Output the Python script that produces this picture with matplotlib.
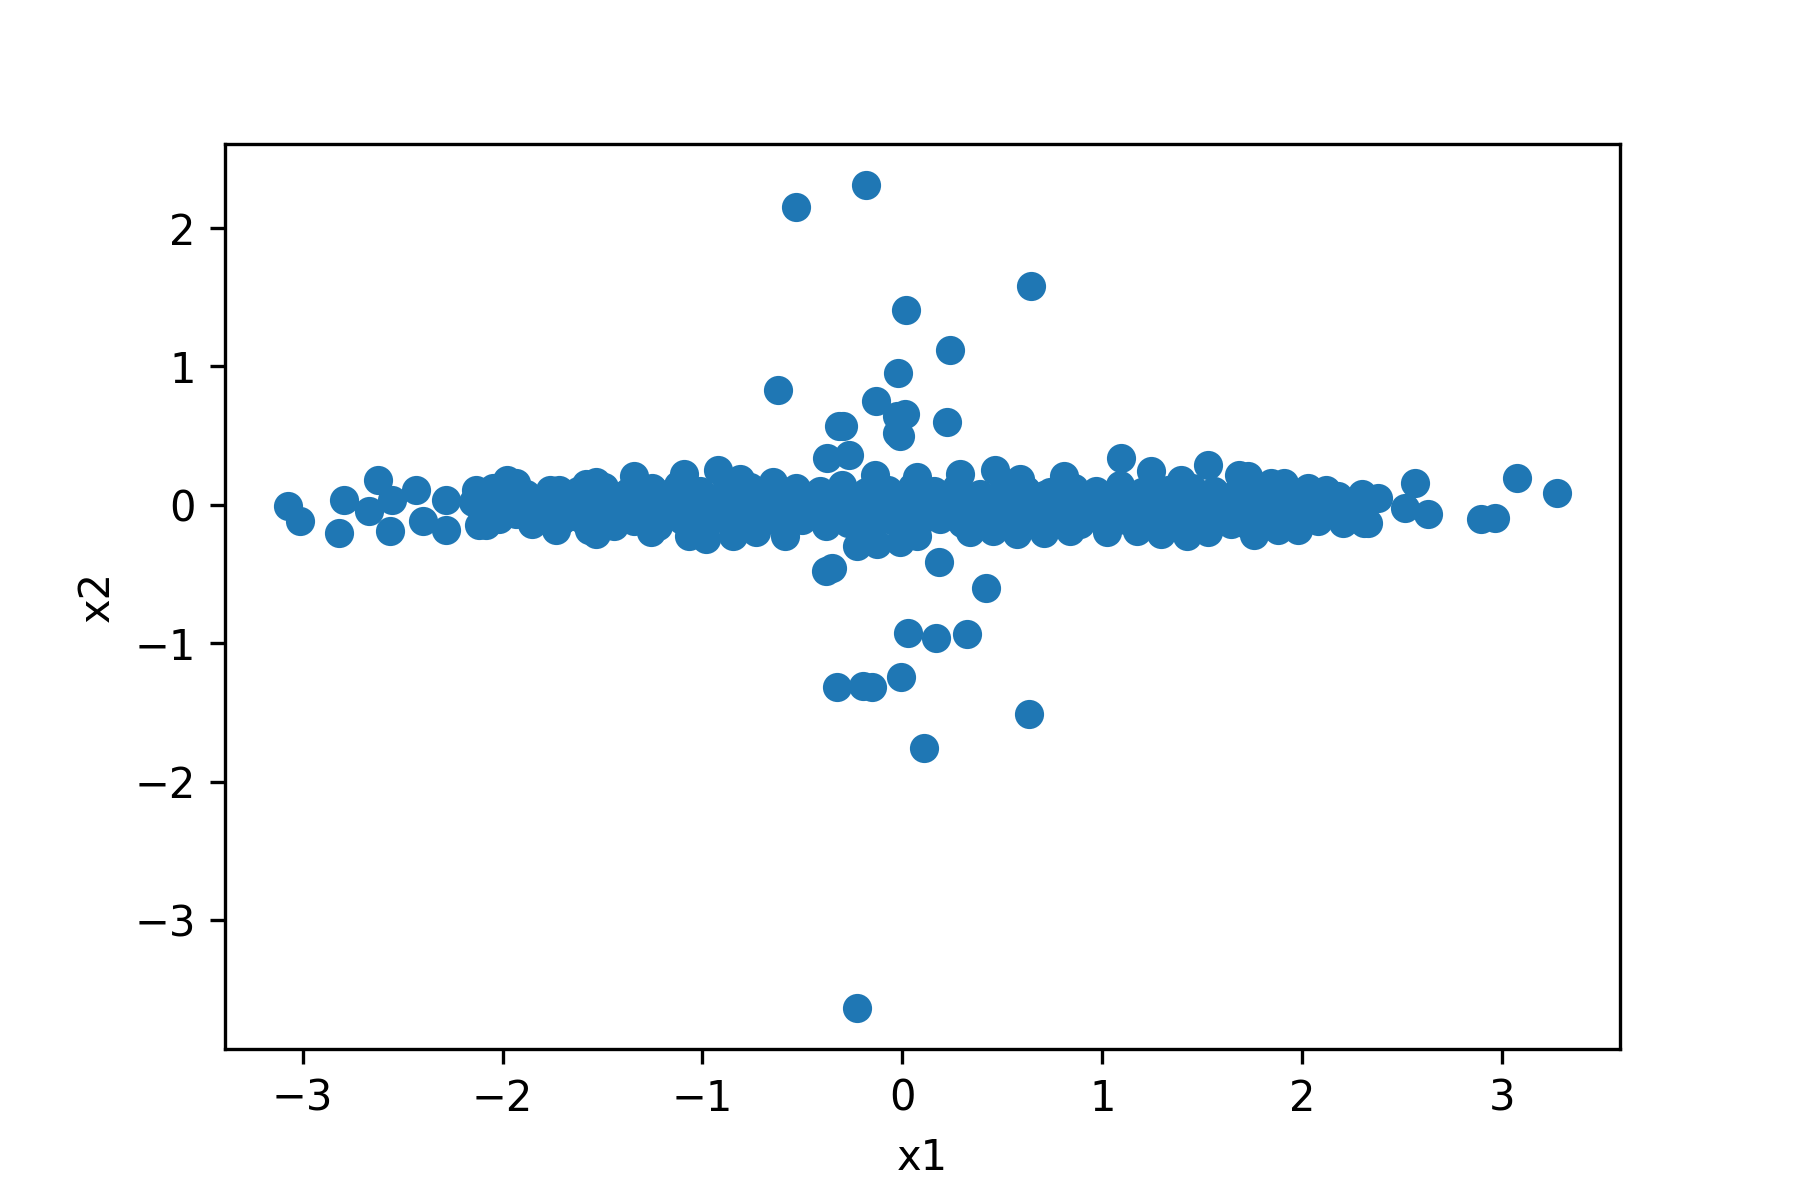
import numpy as np
import matplotlib.pyplot as plt

# points well away from the main band
outlier_x = [-0.53, -0.18, 0.645, 0.02, 0.24, -0.62, -0.02, -0.132, 0.013, -0.028,
             0.226, -0.316, -0.296, -0.028, -0.012, -0.268, -0.379,
             -0.38, -0.354, 0.185, 0.421, 0.03, 0.17, 0.326, -0.326, -0.196,
             -0.154, -0.005, 0.632, 0.11, -0.226]
outlier_y = [2.15, 2.31, 1.58, 1.41, 1.12, 0.83, 0.953, 0.751, 0.659, 0.64,
             0.599, 0.567, 0.567, 0.519, 0.495, 0.363, 0.339,
             -0.48, -0.457, -0.414, -0.602, -0.928, -0.964, -0.935, -1.318, -1.306,
             -1.318, -1.246, -1.513, -1.759, -3.634]

# visible points along the edges and ends of the band
edge_x = [-3.071, -3.012, -2.795, -2.82, -2.623, -2.67, -2.561, -2.553, -2.435, -2.40,
          -2.285, -2.285, -2.135, -2.117, -2.084, -1.976, -1.934, -1.943, -1.866, -1.733,
          -1.716, -1.567, -1.567, -1.58,
          -1.533, -1.533, -1.441, -1.341, -1.257, -1.232, -1.09, -1.065, -0.981, -0.923,
          -0.848, -0.814, -0.73, -0.647, -0.588, -0.229, -0.137, -0.128, -0.012,
          0.072, 0.289, 0.465, 0.59, 0.807, 1.092, 1.242, 1.393, 1.527, 1.685,
          0.072, 0.34, 0.456, 0.574, 0.707, 0.841, 1.025, 1.176, 1.292, 1.426, 1.527, 1.643,
          1.727, 1.76, 1.845, 1.877, 1.91, 1.977, 2.027, 2.12, 2.204, 2.312,
          2.379, 2.513, 2.563, 2.63, 2.894, 2.964, 3.073, 3.273]
edge_y = [-0.012, -0.12, 0.037, -0.204, 0.177, -0.047, -0.192, 0.037, 0.11, -0.12,
          0.037, -0.18, 0.11, -0.144, -0.144, 0.182, 0.158, -0.047, 0.037, -0.18,
          0.11, 0.06, -0.18, 0.15,
          0.165, -0.211, -0.151, 0.208, -0.2, 0.093, 0.225, -0.224, -0.248, 0.254,
          -0.224, 0.189, -0.2, 0.165, -0.224, -0.296, 0.213, -0.284, -0.272,
          0.201, 0.225, 0.249, 0.189, 0.206, 0.339, 0.244, 0.177, 0.285, 0.218,
          -0.224, -0.2, -0.192, -0.212, -0.204, -0.192, -0.2, -0.192, -0.212, -0.224, -0.2, -0.139,
          0.206, -0.216, 0.158, -0.18, 0.158, -0.18, 0.121, 0.11, -0.132, -0.132,
          0.049, -0.023, 0.158, -0.066, -0.103, -0.096, 0.194, 0.086]

# points inside the dense part of the band
fill_top_x = [-2.05, -1.88, -1.76, -1.62, -1.49, -1.37, -1.25, -1.12, -1.01, -0.88,
              -0.76, -0.65, -0.53, -0.41, -0.30, -0.18, -0.07, 0.05, 0.16, 0.27,
              0.39, 0.51, 0.62, 0.74, 0.86, 0.97, 1.09, 1.20, 1.33, 1.45,
              1.56, 1.68, 1.80, 1.93, 2.05, 2.18, 2.30]
fill_top_y = [0.12, 0.08, 0.11, 0.1, 0.13, 0.09, 0.12, 0.14, 0.1, 0.11,
              0.13, 0.08, 0.12, 0.1, 0.14, 0.09, 0.11, 0.13, 0.1, 0.12,
              0.08, 0.13, 0.11, 0.09, 0.12, 0.1, 0.14, 0.09, 0.11, 0.12,
              0.1, 0.08, 0.11, 0.07, 0.09, 0.06, 0.08]

fill_upper_x = [-2.1, -1.97, -1.83, -1.7, -1.57, -1.44, -1.31, -1.18, -1.05, -0.93,
                -0.8, -0.68, -0.56, -0.44, -0.32, -0.2, -0.09, 0.03, 0.14, 0.25,
                0.37, 0.48, 0.6, 0.71, 0.83, 0.95, 1.06, 1.18, 1.3, 1.41,
                1.53, 1.65, 1.77, 1.89, 2.01, 2.14, 2.27]
fill_upper_y = [0.05, 0.06, 0.04, 0.07, 0.05, 0.06, 0.04, 0.06, 0.07, 0.05,
                0.04, 0.06, 0.05, 0.07, 0.04, 0.06, 0.05, 0.04, 0.07, 0.05,
                0.06, 0.04, 0.05, 0.07, 0.06, 0.04, 0.05, 0.06, 0.07, 0.05,
                0.04, 0.06, 0.05, 0.04, 0.06, 0.05, 0.03]

fill_mid_x = [-2.15, -2.0, -1.82, -1.68, -1.55, -1.43, -1.31, -1.19, -1.06, -0.94,
              -0.82, -0.7, -0.59, -0.47, -0.35, -0.24, -0.12, 0.0, 0.11, 0.22,
              0.33, 0.45, 0.57, 0.68, 0.8, 0.92, 1.03, 1.15, 1.27, 1.39,
              1.5, 1.62, 1.74, 1.86, 1.99, 2.12, 2.25]
fill_mid_y = [0.02, -0.03, 0.0, 0.03, -0.02, 0.01, -0.01, 0.02, 0.0, -0.03,
              0.01, 0.03, -0.02, 0.0, 0.02, -0.04, 0.01, -0.02, 0.03, 0.0,
              -0.01, 0.02, -0.03, 0.01, 0.0, 0.02, -0.02, 0.01, 0.03, -0.01,
              0.0, 0.02, -0.03, 0.01, -0.02, 0.0, 0.02]

fill_lower_x = [-2.08, -1.93, -1.78, -1.64, -1.51, -1.39, -1.27, -1.15, -1.03, -0.91,
                -0.79, -0.67, -0.55, -0.43, -0.31, -0.19, -0.08, 0.04, 0.15, 0.27,
                0.38, 0.5, 0.61, 0.73, 0.84, 0.96, 1.08, 1.19, 1.31, 1.43,
                1.55, 1.66, 1.78, 1.9, 2.03, 2.16, 2.29]
fill_lower_y = [-0.06, -0.07, -0.05, -0.08, -0.06, -0.05, -0.07, -0.06, -0.08, -0.05,
                -0.06, -0.07, -0.05, -0.08, -0.06, -0.07, -0.05, -0.06, -0.08, -0.07,
                -0.05, -0.06, -0.07, -0.05, -0.08, -0.06, -0.07, -0.05, -0.06, -0.08,
                -0.07, -0.05, -0.06, -0.07, -0.05, -0.06, -0.07]

fill_low_x = [-2.02, -1.85, -1.7, -1.58, -1.46, -1.34, -1.22, -1.1, -0.97, -0.85,
              -0.73, -0.62, -0.5, -0.38, -0.27, -0.15, -0.04, 0.08, 0.19, 0.3,
              0.42, 0.54, 0.65, 0.77, 0.89, 1.0, 1.12, 1.24, 1.36, 1.47,
              1.59, 1.71, 1.83, 1.96, 2.08, 2.2, 2.33]
fill_low_y = [-0.1, -0.14, -0.11, -0.13, -0.1, -0.12, -0.15, -0.11, -0.13, -0.1,
              -0.14, -0.12, -0.11, -0.15, -0.13, -0.16, -0.12, -0.14, -0.1, -0.13,
              -0.11, -0.15, -0.12, -0.1, -0.14, -0.12, -0.11, -0.13, -0.15, -0.1,
              -0.12, -0.13, -0.11, -0.09, -0.12, -0.1, -0.13]

x1 = np.concatenate([edge_x, fill_top_x, fill_upper_x, fill_mid_x, fill_lower_x,
                     fill_low_x, outlier_x])
x2 = np.concatenate([edge_y, fill_top_y, fill_upper_y, fill_mid_y, fill_lower_y,
                     fill_low_y, outlier_y])

fig, ax = plt.subplots(figsize=(6, 4), dpi=300)
fig.subplots_adjust(bottom=0.126)
ax.scatter(x1, x2)
ax.set_xlabel("x1")
ax.set_ylabel("x2")
fig.savefig("out.png", dpi=300)
